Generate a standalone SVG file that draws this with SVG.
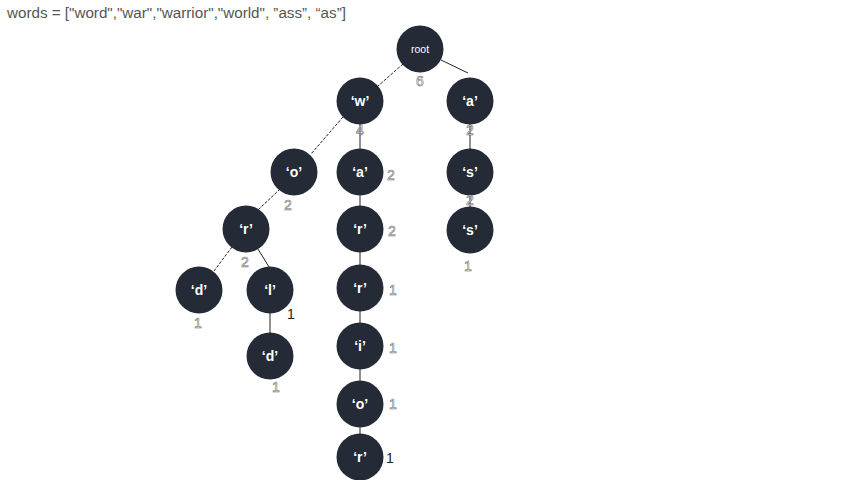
<svg xmlns="http://www.w3.org/2000/svg" width="853" height="480" viewBox="0 0 853 480">
<style>
.node circle{fill:#242b36;}
.node text{fill:#ffffff;font-family:"Liberation Sans",Arial,sans-serif;font-size:14px;font-weight:bold;text-anchor:middle;dominant-baseline:central;}
.cnt{fill:#ffffff;stroke:#6a6a6a;stroke-width:0.55;font-family:"Liberation Sans",Arial,sans-serif;font-size:14px;text-anchor:middle;dominant-baseline:central;}
.cntb{fill:#222222;font-family:"Liberation Sans",Arial,sans-serif;font-size:14px;text-anchor:middle;dominant-baseline:central;}
.e{stroke:#222222;stroke-width:1;fill:none;}
.d{stroke-dasharray:3,1.5;}
</style>
<rect width="853" height="480" fill="#ffffff"/>
<text x="7" y="18" font-family="'Liberation Sans',Arial,sans-serif" font-size="15.2" fill="#555555">words = ["word","war","warrior","world", ”ass”, “as”]</text>
<g id="connectors">
<line class="e d" x1="403" y1="64" x2="378" y2="86"/>
<line class="e" x1="441" y1="60" x2="468" y2="73"/>
<line class="e d" x1="343" y1="117" x2="311" y2="154"/>
<line class="e" x1="360" y1="124" x2="360" y2="149"/>
<line class="e" x1="470" y1="124" x2="470" y2="149"/>
<line class="e d" x1="280" y1="189" x2="258" y2="210"/>
<line class="e" x1="360" y1="195" x2="360" y2="206"/>
<line class="e" x1="470" y1="195" x2="470" y2="207"/>
<line class="e d" x1="232" y1="247" x2="214" y2="271"/>
<line class="e" x1="258" y1="249" x2="269" y2="267"/>
<line class="e" x1="360" y1="252" x2="360" y2="265"/>
<line class="e" x1="270" y1="313" x2="270" y2="333"/>
<line class="e" x1="360" y1="311" x2="360" y2="323"/>
<line class="e" x1="360" y1="369" x2="360" y2="381"/>
<line class="e" x1="360" y1="427" x2="360" y2="434"/>
</g>
<g id="n-root" class="node"><circle cx="420" cy="49" r="23.5"/><text x="420" y="49" style="font-size:10.5px;font-weight:normal">root</text></g>
<g id="n-w" class="node"><circle cx="360" cy="101" r="23.5"/><text x="360" y="101">‘w’</text></g>
<g id="n-a1" class="node"><circle cx="470" cy="101" r="23.5"/><text x="470" y="101">‘a’</text></g>
<g id="n-o" class="node"><circle cx="294" cy="172" r="23.5"/><text x="294" y="172">‘o’</text></g>
<g id="n-a2" class="node"><circle cx="360" cy="172" r="23.5"/><text x="360" y="172">‘a’</text></g>
<g id="n-s1" class="node"><circle cx="470" cy="172" r="23.5"/><text x="470" y="172">‘s’</text></g>
<g id="n-r1" class="node"><circle cx="246" cy="229" r="23.5"/><text x="246" y="229">‘r’</text></g>
<g id="n-r2" class="node"><circle cx="360" cy="229" r="23.5"/><text x="360" y="229">‘r’</text></g>
<g id="n-s2" class="node"><circle cx="470" cy="230" r="23.5"/><text x="470" y="230">‘s’</text></g>
<g id="n-d1" class="node"><circle cx="199" cy="290" r="23.5"/><text x="199" y="290">‘d’</text></g>
<g id="n-l" class="node"><circle cx="270" cy="290" r="23.5"/><text x="270" y="290">‘l’</text></g>
<g id="n-r3" class="node"><circle cx="360" cy="288" r="23.5"/><text x="360" y="288">‘r’</text></g>
<g id="n-d2" class="node"><circle cx="270" cy="356" r="23.5"/><text x="270" y="356">‘d’</text></g>
<g id="n-i" class="node"><circle cx="360" cy="346" r="23.5"/><text x="360" y="346">‘i’</text></g>
<g id="n-o2" class="node"><circle cx="360" cy="404" r="23.5"/><text x="360" y="404">‘o’</text></g>
<g id="n-r4" class="node"><circle cx="360" cy="457" r="23.5"/><text x="360" y="457">‘r’</text></g>
<g id="counts">
<text class="cnt" x="420" y="81">6</text>
<text class="cnt" x="360" y="130">4</text>
<text class="cnt" x="470" y="130">2</text>
<text class="cnt" x="288" y="205">2</text>
<text class="cnt" x="391" y="175">2</text>
<text class="cnt" x="245" y="262">2</text>
<text class="cnt" x="392" y="231">2</text>
<text class="cnt" x="470" y="200">2</text>
<text class="cnt" x="393" y="290">1</text>
<text class="cntb" x="291" y="314">1</text>
<text class="cnt" x="198" y="323">1</text>
<text class="cnt" x="276" y="387">1</text>
<text class="cnt" x="393" y="348">1</text>
<text class="cnt" x="393" y="404">1</text>
<text class="cntb" x="390" y="458">1</text>
<text class="cnt" x="468" y="266">1</text>
</g>
</svg>
